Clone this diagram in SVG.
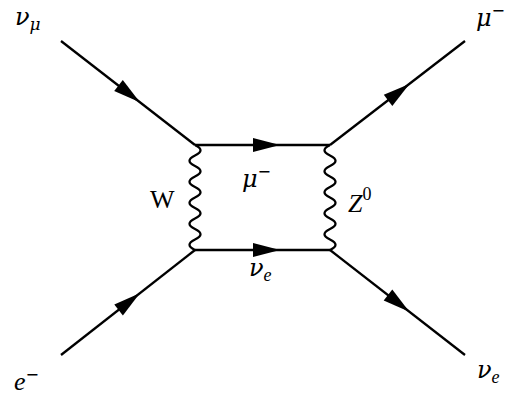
<svg xmlns="http://www.w3.org/2000/svg" width="526" height="404" viewBox="0 0 526 404">
<style>
.f{stroke:#000;stroke-width:2.3;fill:none;stroke-linecap:butt}
.a{fill:#000;stroke:none}
.m{font-family:"Liberation Serif","DejaVu Serif",serif;font-style:italic;fill:#000}
.g{font-family:"DejaVu Serif",serif;font-style:italic}
.r{font-family:"Liberation Serif","DejaVu Serif",serif;fill:#000}
.s{font-family:"DejaVu Sans",sans-serif;font-style:normal}
</style>
<rect width="526" height="404" fill="#fff"/>
<g id="connectors">
<line class="f" x1="61" y1="41" x2="195" y2="145"/>
<line class="f" x1="61" y1="355" x2="195" y2="250"/>
<line class="f" x1="330" y1="145" x2="465" y2="41"/>
<line class="f" x1="330" y1="250" x2="465" y2="355"/>
<line class="f" x1="195" y1="145" x2="330" y2="145"/>
<line class="f" x1="195" y1="250" x2="330" y2="250"/>
<path class="f" d="M195,145 q11,5.25 0,10.5 t0,10.5 t0,10.5 t0,10.5 t0,10.5 t0,10.5 t0,10.5 t0,10.5 t0,10.5 t0,10.5"/>
<path class="f" d="M330,145 q-11,5.25 0,10.5 t0,10.5 t0,10.5 t0,10.5 t0,10.5 t0,10.5 t0,10.5 t0,10.5 t0,10.5 t0,10.5"/>
<polygon class="a" points="139.9,102.2 114.2,91.1 122.8,80.1"/>
<polygon class="a" points="139.8,293.2 122.9,315.4 114.3,304.4"/>
<polygon class="a" points="409.4,83.9 392.3,105.9 383.8,94.8"/>
<polygon class="a" points="409.3,311.7 383.7,300.6 392.3,289.6"/>
<polygon class="a" points="280,145 253,138 253,152"/>
<polygon class="a" points="280,250 253,243 253,257"/>
</g>
<g id="nu_mu"><text class="m" x="15" y="25" font-size="24"><tspan class="g">ν</tspan><tspan class="g" font-size="17" dy="5">μ</tspan></text></g>
<g id="mu_out"><text class="m" x="476" y="26" font-size="24"><tspan class="g">μ</tspan><tspan class="s" font-size="16" dy="-10">−</tspan></text></g>
<g id="e_in"><text class="m" x="14" y="390" font-size="26">e<tspan class="s" font-size="16" dy="-10">−</tspan></text></g>
<g id="nu_e_out"><text class="m" x="477" y="378" font-size="24"><tspan class="g">ν</tspan><tspan font-size="18" dy="5">e</tspan></text></g>
<g id="W"><text class="r" x="150" y="208" font-size="26">W</text></g>
<g id="mu_mid"><text class="m" x="242" y="187" font-size="24"><tspan class="g">μ</tspan><tspan class="s" font-size="16" dy="-10">−</tspan></text></g>
<g id="Z0"><text class="m" x="348" y="212" font-size="26">Z<tspan font-size="18" font-style="normal" dy="-12">0</tspan></text></g>
<g id="nu_e_mid"><text class="m" x="249" y="276" font-size="24"><tspan class="g">ν</tspan><tspan font-size="18" dy="5">e</tspan></text></g>
</svg>
